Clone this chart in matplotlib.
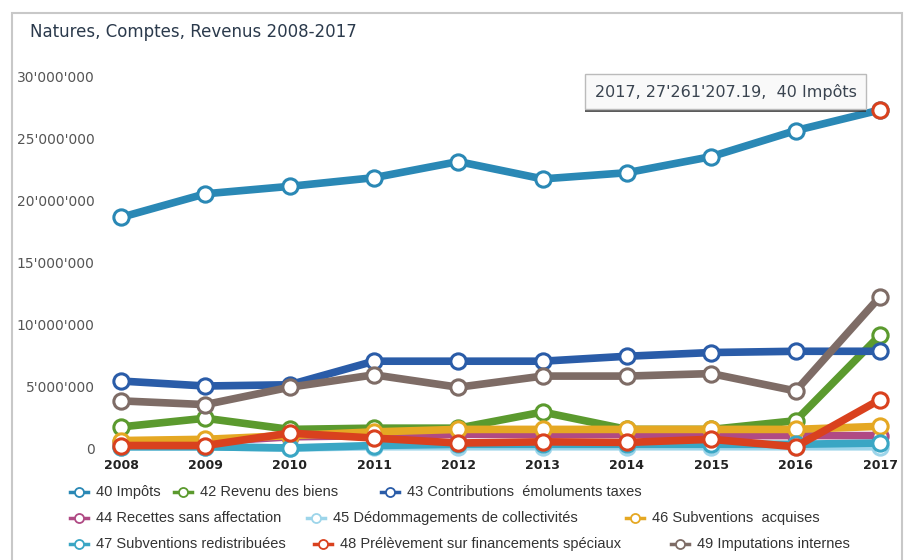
import numpy as np
import matplotlib
matplotlib.use("Agg")
import matplotlib.pyplot as plt
import matplotlib.patheffects as pe
from matplotlib.lines import Line2D
from matplotlib.patches import Rectangle

years = [2008, 2009, 2010, 2011, 2012, 2013, 2014, 2015, 2016, 2017]

impots = [18.6, 20.5, 21.1, 21.8, 23.1, 21.7, 22.2, 23.5, 25.6, 27.2612072]
revenu_biens = [1.7, 2.4, 1.5, 1.6, 1.6, 2.9, 1.5, 1.5, 2.2, 9.1]
contributions = [5.4, 5.0, 5.1, 7.0, 7.0, 7.0, 7.4, 7.7, 7.8, 7.8]
recettes = [0.5, 0.5, 0.9, 1.0, 1.1, 1.1, 1.1, 1.0, 1.0, 1.0]
dedommagements = [0.1, 0.1, 0.0, 0.1, 0.1, 0.1, 0.1, 0.1, 0.1, 0.1]
subv_acquises = [0.6, 0.7, 1.0, 1.3, 1.5, 1.5, 1.5, 1.5, 1.5, 1.75]
subv_redistrib = [0.1, 0.1, 0.0, 0.2, 0.3, 0.3, 0.3, 0.3, 0.3, 0.4]
prelevement = [0.2, 0.2, 1.2, 0.8, 0.4, 0.5, 0.45, 0.7, 0.1, 3.9]
imputations = [3.8, 3.5, 4.9, 5.9, 4.9, 5.8, 5.8, 6.0, 4.6, 12.2]

names = ["40 Impôts", "42 Revenu des biens", "43 Contributions  émoluments taxes",
         "44 Recettes sans affectation", "45 Dédommagements de collectivités",
         "46 Subventions  acquises", "47 Subventions redistribuées",
         "48 Prélèvement sur financements spéciaux", "49 Imputations internes"]
series = [impots, revenu_biens, contributions, recettes, dedommagements,
          subv_acquises, subv_redistrib, prelevement, imputations]
colors = ["#2a88b5", "#5b9a2e", "#2a5ca8", "#b04a84", "#9dd5ea",
          "#e5a823", "#3aa6c4", "#d9411e", "#7e6c66"]

yticks = [0, 5e6, 10e6, 15e6, 20e6, 25e6, 30e6]

W, H = 906, 560
fig = plt.figure(figsize=(W / 100, H / 100), dpi=100)
fig.patch.set_facecolor("white")

# outer frame
fig.add_artist(Rectangle((12 / W, -0.05), (902 - 12) / W, 1.05 - 13 / H,
                         transform=fig.transFigure, fill=False,
                         ec="#c8c8c8", lw=1.5))

fig.text(30 / W, 1 - 32 / H, "Natures, Comptes, Revenus 2008-2017",
         fontsize=12, color="#2b3a4c", family="DejaVu Sans", va="center")

ax = fig.add_axes([121 / W, (H - 448) / H, (880 - 121) / W, (448 - 76) / H])
ax.set_facecolor("none")
for s in ax.spines.values():
    s.set_visible(False)

for i, (vals, c) in enumerate(zip(series, colors)):
    v = np.array(vals) * 1e6
    ax.plot(years, v, color=c, lw=5.5, marker="o", ms=11, mfc="white",
            mec=c, mew=2.2, clip_on=False, zorder=2 + i,
            solid_capstyle="round")

# hovered point
ax.plot(years[-1], impots[-1] * 1e6, marker="o", ms=11, mfc="white",
        mec="#d9411e", mew=2.2, clip_on=False, zorder=20)

ax.set_xlim(2008, 2017)
ax.set_ylim(0, 30e6)
ax.set_xticks(years)
ax.set_xticklabels([str(y) for y in years], fontsize=9, fontweight="bold",
                   color="#222222", family="DejaVu Sans")
ax.set_yticks(yticks)
ax.set_yticklabels([f"{int(v):,}".replace(",", "'") for v in yticks],
                   fontsize=10, color="#555555", family="DejaVu Sans")
ax.tick_params(axis="y", length=0, pad=19)
ax.tick_params(axis="x", length=0, pad=8)

# tooltip
tip = "2017, 27'261'207.19,  40 Impôts"
ann = ax.annotate(tip, (years[-1], impots[-1] * 1e6), xytext=(-111, 13),
                  textcoords="offset points", ha="center", va="center",
                  fontsize=11.5, color="#3a4450", zorder=30,
                  bbox=dict(boxstyle="square,pad=0.6", fc="#f9f9f9",
                            ec="#bbbbbb", lw=1))
ann.get_bbox_patch().set_path_effects([
    pe.SimplePatchShadow(offset=(0, -2), shadow_rgbFace="#333333", alpha=0.8),
    pe.Normal()])

# legend rows (text start x in px, row y in px)
rows = [(492, [(0, 96), (1, 200), (2, 407)]),
        (518, [(3, 96), (4, 333), (5, 652)]),
        (544, [(6, 96), (7, 340), (8, 697)])]
for ypx, items in rows:
    yf = 1 - ypx / H
    for idx, xpx in items:
        cx = xpx - 17
        fig.add_artist(Line2D([(cx - 9) / W, (cx + 9) / W], [yf, yf],
                              transform=fig.transFigure, color=colors[idx],
                              lw=2.5))
        fig.add_artist(Line2D([cx / W], [yf], transform=fig.transFigure,
                              marker="o", ms=6.5, mfc="white",
                              mec=colors[idx], mew=1.3, lw=0))
        fig.text(xpx / W, yf, names[idx], fontsize=10.5, color="#333333",
                 family="Liberation Sans", va="center", ha="left")

fig.savefig("out.png", dpi=100)
